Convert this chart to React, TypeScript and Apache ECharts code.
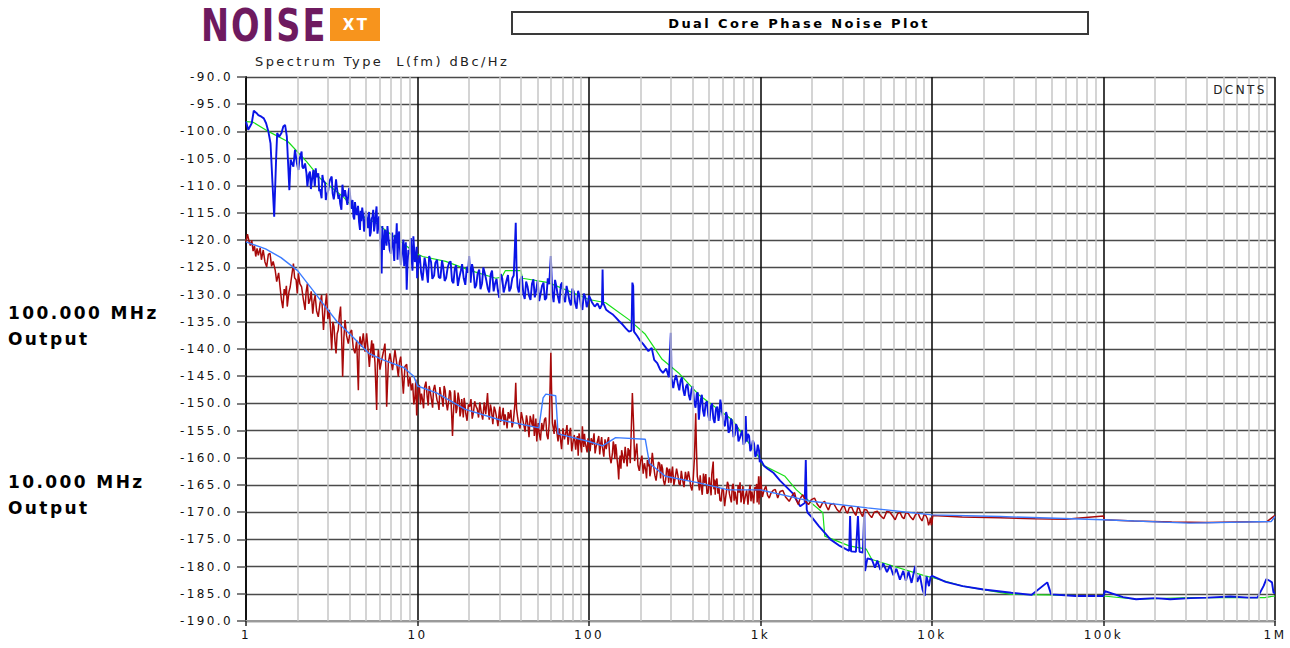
import React, { useEffect, useRef } from "react";
import * as echarts from "echarts";

// ---------- axis configuration ----------
const yMin = -190;
const yMax = -90;
const yStep = 5;
const xMin = 1;
const xMax = 1000000;
const xTickLabels: Record<string, string> = {
  "1": "1",
  "10": "10",
  "100": "100",
  "1000": "1k",
  "10000": "10k",
  "100000": "100k",
  "1000000": "1M",
};
const minorMultipliers = [2, 3, 4, 5, 6, 7, 8, 9];
const decadeStarts = [1, 10, 100, 1000, 10000, 100000];

// ---------- series data: [offset frequency Hz, dBc/Hz] ----------
const blue100: [number, number][] = [
  [1, -98.2], [1.03, -99.7], [1.08, -98.5], [1.11, -96.2], [1.15, -96.6], [1.18, -97.0],
  [1.23, -97.3], [1.27, -97.6], [1.31, -98.5], [1.35, -100.0], [1.39, -102.2], [1.43, -110.1],
  [1.46, -115.7], [1.5, -104.6], [1.52, -100.3], [1.56, -101.0], [1.61, -100.3], [1.65, -99.1],
  [1.69, -98.8], [1.73, -100.9], [1.79, -110.8], [1.82, -105.2], [1.89, -106.5], [1.93, -103.4],
  [1.98, -105.8], [2.02, -107.1], [2.06, -104.9], [2.11, -103.7], [2.16, -106.8], [2.21, -105.9],
  [2.28, -110.1], [2.32, -108.0], [2.36, -107.4], [2.42, -109.2], [2.47, -107.1], [2.52, -110.1],
  [2.58, -108.4], [2.64, -107.7], [2.7, -110.6], [2.76, -112.3], [2.82, -109.0], [2.89, -109.5],
  [2.95, -111.9], [3.02, -110.8], [3.09, -108.9], [3.16, -108.3], [3.25, -112.5], [3.31, -110.6],
  [3.38, -110.1], [3.46, -112.4], [3.54, -113.2], [3.65, -109.8], [3.72, -112.0], [3.78, -110.8],
  [3.9, -113.5], [3.97, -111.0], [4.04, -111.4], [4.13, -114.2], [4.23, -115.7], [4.32, -113.0],
  [4.42, -115.4], [4.5, -113.7], [4.62, -118.1], [4.7, -116.5], [4.76, -114.0], [4.83, -115.7],
  [4.94, -117.6], [5.05, -115.7], [5.15, -117.8], [5.28, -119.3], [5.4, -116.0], [5.52, -114.4],
  [5.64, -117.2], [5.77, -113.8], [5.9, -116.9], [6.05, -119.5], [6.18, -126.1], [6.3, -120.5],
  [6.46, -118.1], [6.6, -121.0], [6.76, -119.3], [7.0, -122.5], [7.24, -121.8], [7.4, -119.0],
  [7.57, -116.9], [7.74, -119.3], [7.9, -121.5], [8.09, -123.0], [8.28, -119.9], [8.45, -122.0],
  [8.65, -129.1], [8.85, -121.8], [9.05, -120.6], [9.25, -123.5], [9.46, -119.3], [9.65, -124.0],
  [9.89, -121.2], [10.1, -124.2], [10.5, -126.0], [11.0, -123.2], [11.5, -127.8], [12.0, -124.0],
  [12.5, -126.5], [13.0, -123.6], [13.6, -127.0], [14.1, -124.8], [14.7, -126.9], [15.3, -124.1],
  [15.9, -127.5], [16.5, -125.2], [17.2, -128.4], [17.9, -125.6], [18.6, -127.0], [19.4, -124.9],
  [20.0, -122.9], [20.4, -127.8], [21.2, -125.7], [22.0, -128.3], [22.9, -125.4], [23.8, -127.9],
  [24.7, -126.1], [25.7, -128.9], [26.7, -126.3], [27.8, -129.4], [28.9, -127.1], [30.0, -130.6],
  [31.2, -127.0], [32.4, -128.6], [33.7, -126.4], [35.0, -128.8], [36.4, -126.5], [37.0, -121.0],
  [37.4, -116.8], [37.8, -125.0], [38.3, -128.6], [39.8, -127.2], [41.4, -129.8], [43.0, -127.6],
  [44.7, -130.2], [46.5, -128.0], [48.3, -130.5], [50.2, -127.4], [52.2, -129.9], [54.3, -127.8],
  [56.4, -130.6], [58.6, -128.1], [59.9, -122.9], [61.0, -129.4], [63.4, -127.3], [65.9, -130.4],
  [68.5, -128.2], [71.2, -130.8], [74.0, -128.4], [76.9, -131.2], [80.0, -128.9], [83.1, -131.6],
  [86.4, -129.3], [89.8, -132.1], [93.3, -129.8], [97.0, -132.3], [100, -130.2], [104, -131.4],
  [108, -132.2], [112, -131.6], [116, -132.6], [119, -131.8], [120, -125.4], [121, -131.5],
  [126, -132.8], [131, -133.2], [137, -133.6], [143, -134.2], [150, -134.9], [157, -135.5],
  [164, -136.2], [171, -136.8], [177, -136.6], [179, -127.8], [181, -128.4], [183, -136.8],
  [191, -137.6], [198, -138.4], [206, -139.0], [214, -139.7], [222, -140.4], [232, -139.8],
  [240, -142.0], [250, -142.6], [260, -143.8], [270, -144.4], [282, -143.6], [292, -145.2],
  [300, -137.0], [303, -145.4], [315, -145.8], [330, -146.5], [342, -145.8], [355, -147.6],
  [368, -146.9], [382, -148.5], [396, -147.4], [410, -149.6], [425, -148.2], [437, -153.0],
  [448, -149.4], [462, -151.3], [479, -150.0], [496, -152.2], [513, -150.6], [531, -152.8],
  [550, -151.0], [569, -153.2], [583, -149.3], [600, -152.0], [620, -154.2], [640, -152.4],
  [662, -155.0], [685, -153.6], [708, -155.8], [732, -154.4], [757, -156.4], [783, -155.0],
  [810, -157.2], [820, -152.3], [830, -157.0], [858, -156.0], [887, -158.2], [917, -157.4],
  [948, -159.4], [980, -158.6], [1000, -160.3], [1050, -161.5], [1100, -162.0], [1194, -162.8],
  [1300, -164.2], [1400, -165.2], [1538, -166.5], [1703, -168.9], [1810, -168.3], [1837, -160.4],
  [1860, -169.5], [1885, -170.1], [2000, -171.0], [2195, -172.6], [2400, -174.0], [2555, -175.0],
  [2900, -176.2], [3290, -177.1], [3330, -170.7], [3375, -177.2], [3600, -177.3], [3700, -170.7],
  [3780, -177.3], [3950, -177.4], [4030, -169.8], [4070, -180.8], [4200, -178.5], [4460, -178.7],
  [4650, -180.2], [4800, -178.9], [5000, -180.6], [5200, -179.4], [5460, -181.0], [5700, -179.8],
  [5950, -181.6], [6200, -180.4], [6500, -182.4], [6800, -180.8], [7040, -182.6], [7300, -180.9],
  [7600, -183.0], [7980, -179.9], [8200, -182.8], [8500, -181.6], [8800, -184.2], [9070, -185.4],
  [9300, -181.8], [9600, -183.6], [9800, -182.0], [10000, -181.7], [12000, -182.8], [15100, -183.6],
  [20000, -184.2], [29000, -184.8], [38000, -185.2], [47000, -182.9], [49500, -185.1], [68800, -185.4],
  [100000, -185.4], [102000, -184.5], [130000, -185.6], [155000, -186.0], [200000, -185.8], [245000, -186.0],
  [320000, -185.8], [407000, -185.7], [550000, -185.5], [700000, -185.7], [790000, -185.7], [860000, -183.5],
  [890000, -182.3], [930000, -182.6], [960000, -182.9], [980000, -184.8], [1000000, -184.8],
];

// extra readings that fill the dense noise band of the 100 MHz trace
const blue100Band: [number, number][] = [
  [2.04, -105.6], [2.13, -106.5], [2.25, -107.6], [2.39, -110.6], [2.55, -106.8], [2.67, -111.0],
  [2.79, -108.0], [2.92, -112.6], [3.05, -109.6], [3.2, -111.4], [3.35, -108.8], [3.5, -111.6],
  [3.6, -114.4], [3.84, -112.2], [4.0, -110.4], [4.08, -113.8], [4.18, -112.6], [4.28, -116.2],
  [4.37, -114.4], [4.56, -116.6], [4.66, -114.6], [4.88, -118.4], [5.0, -114.6], [5.1, -116.4],
  [5.22, -114.8], [5.34, -118.6], [5.46, -115.8], [5.58, -118.4], [5.7, -115.4], [5.84, -118.8],
  [5.97, -115.6], [6.11, -121.6], [6.24, -117.4], [6.38, -121.8], [6.53, -119.2], [6.68, -117.4],
  [6.88, -121.8], [7.12, -118.6], [7.32, -123.8], [7.48, -120.6], [7.65, -123.6], [7.82, -118.4],
  [8.0, -124.6], [8.18, -121.2], [8.36, -124.8], [8.55, -120.4], [8.75, -124.2], [8.95, -122.6],
  [9.15, -119.6], [9.35, -125.6], [9.55, -121.4], [9.77, -123.2], [9.95, -127.0],
  [10.3, -122.8], [10.7, -127.4], [11.2, -124.6], [11.7, -122.9], [12.2, -127.1], [12.7, -124.2],
  [13.3, -126.8], [13.9, -123.7], [14.4, -127.5], [15.0, -125.0], [15.6, -123.9], [16.2, -127.9],
  [16.8, -124.6], [17.5, -127.0], [18.2, -124.4], [19.0, -128.2], [19.7, -126.0], [20.8, -124.4],
  [21.6, -128.8], [22.4, -126.2], [23.3, -129.0], [24.2, -125.0], [25.2, -127.4], [26.2, -129.6],
  [27.2, -125.6], [28.3, -128.0], [29.4, -129.2], [30.6, -126.2], [31.8, -129.6], [33.0, -127.5],
  [34.3, -129.4], [35.7, -127.0], [39.0, -129.6], [40.6, -126.6], [42.2, -130.8], [43.8, -128.5],
  [45.6, -131.0], [47.4, -127.2], [49.2, -129.2], [51.2, -131.2], [53.2, -128.4], [55.3, -131.0],
  [57.5, -127.0], [62.2, -131.4], [64.6, -128.6], [67.2, -131.6], [69.8, -127.8], [72.6, -131.4],
  [75.4, -129.6], [78.4, -132.0], [81.5, -129.4], [84.7, -132.6], [88.0, -130.2], [91.5, -132.8],
  [95.1, -130.4], [98.5, -131.6],
  [310, -147.2], [322, -144.8], [336, -147.6], [348, -145.2], [361, -148.6], [375, -146.4],
  [389, -149.4], [403, -146.8], [418, -150.8], [431, -148.0], [442, -151.2], [455, -148.4],
  [470, -152.4], [487, -149.6], [504, -153.2], [522, -150.0], [540, -153.6], [560, -150.6],
  [576, -152.0], [590, -150.4], [610, -153.8], [630, -151.6], [651, -155.4], [673, -152.8],
  [696, -156.2], [720, -153.8], [744, -157.0], [770, -155.6], [796, -157.6], [844, -155.6],
  [872, -158.8], [902, -156.8], [932, -159.8], [964, -157.6], [990, -160.8],
];

const green100: [number, number][] = [
  [1, -98.2], [1.1, -98.3], [1.35, -100.0], [1.76, -101.9], [2.25, -105.5], [2.7, -108.6],
  [3.68, -112.0], [4.6, -115.3], [5.75, -116.9], [9.8, -122.4], [10.7, -123.0], [14.6, -123.9],
  [20, -125.5], [28.6, -127.0], [31, -126.8], [32.5, -125.6], [40, -125.6], [41, -127.0],
  [58, -127.8], [100, -130.9], [125, -131.5], [137, -132.4], [171, -134.6], [213, -137.3],
  [267, -141.9], [333, -144.4], [436, -148.4], [683, -153.0], [1000, -160.3], [1026, -161.3],
  [1390, -163.4], [1620, -165.9], [1980, -168.3], [2310, -170.1], [2370, -174.4], [3290, -176.2],
  [4140, -176.8], [4460, -178.7], [9100, -181.7], [10000, -182.0], [15100, -183.6], [29000, -185.1],
  [100000, -185.4], [155000, -186.0], [316000, -185.7], [870000, -185.7], [1000000, -185.4],
];

const red10: [number, number][] = [
  [1, -120.3], [1.02, -118.9], [1.04, -120.1], [1.06, -121.0], [1.08, -120.0], [1.1, -122.0],
  [1.12, -121.0], [1.14, -123.0], [1.16, -121.5], [1.18, -122.8], [1.21, -121.4], [1.23, -123.6],
  [1.26, -121.8], [1.29, -124.0], [1.32, -124.9], [1.35, -122.6], [1.38, -122.4], [1.41, -124.8],
  [1.44, -123.9], [1.48, -125.5], [1.51, -127.6], [1.55, -126.0], [1.58, -128.6], [1.61, -131.0],
  [1.64, -132.5], [1.67, -129.0], [1.69, -130.1], [1.72, -128.4], [1.74, -132.2], [1.78, -129.5],
  [1.81, -128.6], [1.85, -126.4], [1.89, -124.3], [1.92, -126.9], [1.96, -127.3], [1.99, -129.8],
  [2.02, -126.1], [2.06, -128.0], [2.11, -128.6], [2.16, -130.9], [2.21, -132.8], [2.24, -129.6],
  [2.28, -128.0], [2.32, -131.7], [2.36, -131.0], [2.4, -129.4], [2.45, -133.5], [2.49, -131.2],
  [2.53, -130.1], [2.58, -133.0], [2.64, -134.1], [2.7, -131.6], [2.76, -130.1], [2.8, -133.8],
  [2.83, -136.5], [2.89, -132.4], [2.95, -129.8], [3.0, -134.5], [3.06, -132.8], [3.11, -136.2],
  [3.16, -140.2], [3.21, -135.0], [3.26, -135.9], [3.3, -138.5], [3.35, -140.8], [3.4, -137.2],
  [3.45, -136.5], [3.5, -134.0], [3.56, -132.2], [3.61, -137.8], [3.66, -145.1], [3.72, -138.0],
  [3.78, -134.7], [3.86, -137.6], [3.95, -139.0], [4.04, -137.0], [4.13, -136.5], [4.22, -139.8],
  [4.32, -140.8], [4.42, -138.4], [4.52, -147.6], [4.57, -140.0], [4.62, -137.7], [4.72, -139.6],
  [4.83, -137.1], [4.94, -140.5], [5.05, -137.1], [5.14, -139.8], [5.24, -143.3], [5.32, -140.6],
  [5.41, -138.4], [5.47, -141.6], [5.53, -139.0], [5.65, -142.5], [5.78, -151.2], [5.84, -143.0],
  [5.91, -140.2], [6.04, -143.8], [6.18, -142.0], [6.32, -140.6], [6.46, -139.0], [6.54, -143.6],
  [6.61, -150.6], [6.76, -142.5], [6.91, -140.8], [7.15, -143.9], [7.39, -140.2], [7.56, -142.6],
  [7.73, -145.1], [7.85, -142.4], [7.98, -141.4], [8.12, -144.6], [8.27, -148.2], [8.45, -143.2],
  [8.65, -142.8], [8.85, -146.9], [9.04, -145.1], [9.2, -147.6], [9.37, -146.3], [9.52, -150.2],
  [9.67, -148.8], [9.78, -145.6], [9.89, -152.2], [10.0, -149.0], [10.1, -147.6], [10.4, -150.2],
  [10.7, -149.3], [11.0, -147.0], [11.4, -148.9], [11.7, -146.8], [12.1, -149.6], [12.4, -147.5],
  [12.8, -148.1], [13.2, -150.0], [13.5, -147.0], [13.9, -149.2], [14.3, -146.8], [14.7, -149.8],
  [15.2, -149.5], [15.6, -148.0], [16.0, -156.0], [16.3, -150.3], [16.6, -148.8], [17.0, -150.9],
  [17.5, -149.3], [17.9, -151.5], [18.3, -150.8], [18.7, -149.0], [19.1, -151.8], [19.8, -150.2],
  [20.5, -149.2], [21.2, -151.6], [21.9, -150.5], [22.7, -152.6], [23.5, -151.5], [24.5, -149.8],
  [25.6, -148.1], [25.9, -151.0], [26.2, -153.0], [27.0, -151.3], [28.0, -150.6], [29.0, -152.8],
  [29.9, -151.8], [30.5, -153.4], [31.2, -152.0], [32.0, -154.0], [32.8, -153.0], [33.8, -151.6],
  [35.0, -151.2], [36.2, -153.4], [37.0, -150.0], [37.4, -146.2], [37.8, -151.0], [38.3, -152.4],
  [39.6, -154.6], [41.0, -152.8], [42.4, -155.2], [44.0, -153.8], [45.4, -152.3], [46.8, -154.2],
  [48.0, -156.0], [49.0, -152.8], [50.1, -155.0], [51.2, -155.4], [53.0, -153.6], [55.0, -153.0],
  [56.8, -155.8], [58.6, -153.6], [59.3, -147.0], [59.9, -140.7], [60.5, -147.5], [61.2, -153.6],
  [62.6, -155.6], [64.1, -154.2], [66.0, -157.0], [68.0, -156.2], [70.5, -154.6], [73.3, -155.4],
  [75.5, -157.6], [78.0, -154.5], [80.6, -157.2], [83.6, -158.5], [85.5, -156.0], [87.5, -155.5],
  [89.5, -157.8], [91.5, -154.2], [93.2, -158.0], [95.0, -157.2], [97.5, -159.0], [100, -157.9],
  [103, -156.4], [107, -155.5], [110, -158.0], [114, -156.0], [117, -157.4], [120, -158.2],
  [124, -156.6], [128, -157.0], [132, -159.6], [137, -159.1], [140, -157.8], [143, -157.5],
  [146, -160.5], [149, -164.0], [152, -159.6], [155, -158.6], [160, -161.0], [165, -160.0],
  [169, -158.2], [172, -158.5], [176, -156.0], [179, -148.1], [182, -154.0], [187, -159.1],
  [193, -161.4], [200, -160.5], [207, -162.9], [214, -162.2], [219, -160.4], [224, -160.0],
  [229, -162.6], [234, -159.1], [242, -163.2], [250, -162.5], [258, -161.0], [265, -161.2],
  [272, -164.2], [280, -164.0], [288, -162.2], [295, -162.0], [301, -164.6], [307, -161.6],
  [318, -163.8], [330, -163.3], [340, -165.0], [351, -164.0], [365, -162.6], [380, -162.5],
  [392, -165.3], [405, -164.0], [412, -160.0], [419, -151.8], [423, -158.0], [428, -163.4],
  [440, -166.0], [450, -165.0], [465, -162.9], [480, -163.0], [495, -166.4], [510, -165.5],
  [520, -163.0], [530, -160.7], [540, -164.0], [549, -164.6], [565, -166.6], [580, -167.8],
  [598, -165.6], [618, -168.9], [633, -166.2], [650, -165.0], [667, -167.4], [685, -165.2],
  [702, -167.9], [720, -167.5], [740, -165.0], [760, -164.5], [780, -166.8], [800, -168.5],
  [830, -166.0], [860, -165.9], [880, -168.0], [900, -167.0], [925, -165.4], [950, -164.8],
  [962, -166.6], [975, -163.4], [985, -166.0], [990, -167.5], [995, -165.0], [1000, -163.4],
  [1050, -165.9], [1100, -166.9], [1150, -166.5], [1220, -165.8], [1300, -166.2], [1400, -167.2],
  [1538, -166.8], [1620, -167.8], [1700, -167.5], [1830, -168.0], [1980, -167.7], [2150, -168.6],
  [2300, -168.3], [2430, -169.0], [2555, -168.6], [2780, -169.4], [3000, -169.0], [3150, -169.8],
  [3290, -169.2], [3500, -170.0], [3700, -169.0], [3850, -170.2], [4030, -169.5], [4300, -170.4],
  [4600, -170.0], [5000, -170.6], [5460, -169.8], [5900, -170.7], [6300, -170.3], [6700, -170.9],
  [7040, -170.1], [7500, -170.9], [8000, -170.5], [8500, -171.0], [9000, -170.4], [9400, -171.2],
  [9700, -171.8], [9900, -172.4], [10000, -172.0], [10100, -170.6], [15000, -170.9], [25000, -171.0],
  [40000, -171.2], [60000, -171.3], [100000, -170.7], [101000, -171.4], [150000, -171.6], [250000, -171.8],
  [400000, -171.9], [600000, -171.8], [900000, -171.7], [1000000, -170.6],
];

// extra readings that fill the dense noise band of the 10 MHz trace
const red10Band: [number, number][] = [
  [10.25, -146.6], [10.55, -148.2], [10.85, -150.9], [11.2, -146.0], [11.55, -150.4], [11.9, -148.0],
  [12.25, -150.8], [12.6, -146.6], [13.0, -149.4], [13.35, -151.2], [13.7, -148.4], [14.1, -150.6],
  [14.5, -147.6], [14.95, -151.3], [15.4, -147.6], [15.8, -151.6], [16.15, -152.5], [16.45, -147.6],
  [16.8, -151.8], [17.25, -148.0], [17.7, -152.4], [18.1, -149.2], [18.5, -152.6], [18.9, -150.0],
  [19.45, -153.2], [20.15, -150.6], [20.85, -152.8], [21.55, -149.6], [22.3, -151.0], [23.1, -149.8],
  [24.0, -153.0], [25.0, -152.0], [26.6, -150.2], [27.5, -153.8], [28.5, -151.5], [29.45, -154.2],
  [30.2, -150.6], [30.85, -152.9], [31.6, -150.8], [32.4, -152.0], [33.3, -154.6], [34.4, -152.8],
  [35.6, -154.4], [38.9, -153.8], [40.3, -151.6], [41.7, -154.0], [43.2, -152.2], [44.7, -156.2],
  [46.1, -153.2], [47.4, -152.0], [48.5, -154.6], [49.6, -157.0], [50.6, -153.6], [52.1, -156.8],
  [54.0, -155.0], [55.9, -152.6], [57.7, -156.6], [63.3, -153.0], [65.0, -155.4], [67.0, -154.6],
  [69.2, -158.4], [71.9, -156.6], [74.4, -154.0], [76.7, -155.6], [79.3, -158.8], [82.1, -155.8],
  [84.5, -157.0], [86.5, -159.6], [88.5, -156.6], [90.5, -159.0], [92.3, -156.2], [94.1, -155.6],
  [96.2, -158.0], [98.7, -156.4],
  [101.5, -158.8], [105, -157.6], [108.5, -159.2], [112, -157.0], [115.5, -159.4], [118.5, -156.2],
  [122, -159.8], [126, -158.4], [130, -156.2], [134.5, -161.0], [138.5, -157.0], [141.5, -160.2],
  [144.5, -158.6], [147.5, -161.8], [150.5, -160.6], [153.5, -162.0], [157.5, -159.8], [162.5, -158.0],
  [167, -161.6], [170.5, -159.6], [174, -161.0], [184.5, -160.6], [190, -157.4], [196.5, -162.4],
  [203.5, -159.6], [210.5, -161.0], [216.5, -163.8], [221.5, -161.6], [226.5, -163.4], [231.5, -160.8],
  [238, -161.4], [246, -164.2], [254, -160.8], [261.5, -163.8], [268.5, -162.0], [276, -165.0],
  [284, -161.8], [291.5, -164.6], [298, -163.0], [304, -162.6], [312.5, -165.0], [324, -162.0],
  [335, -164.8], [345.5, -162.4], [358, -165.4], [372.5, -164.2], [386, -163.8], [398.5, -166.0],
  [434, -164.4], [445, -163.2], [457.5, -166.8], [472.5, -164.6], [487.5, -166.6], [502.5, -163.6],
  [515, -166.9], [535, -165.8], [544.5, -166.8], [557, -163.8], [572.5, -165.4], [589, -168.0],
  [608, -166.0], [625.5, -167.4], [641.5, -164.4], [658.5, -166.6], [676, -168.2], [693.5, -164.8],
  [711, -166.2], [730, -168.6], [750, -166.4], [770, -168.2], [790, -165.2], [815, -167.2],
  [845, -168.6], [870, -165.0], [890, -166.2], [912.5, -168.4], [937.5, -166.0], [956, -168.2],
  [968.5, -165.6], [980, -168.6],
  [1025, -167.2], [1075, -165.2], [1125, -167.4], [1185, -166.0], [1260, -167.4], [1350, -166.0],
  [1470, -168.0], [1580, -166.4], [1660, -168.6], [1765, -166.8], [1905, -168.6], [2065, -167.4],
  [2225, -169.2], [2365, -168.0], [2490, -169.6], [2670, -168.4], [2890, -170.0], [3075, -168.8],
  [3220, -170.2], [3395, -169.0], [3600, -170.6], [3775, -169.4], [3940, -170.8], [4165, -169.6],
  [4450, -171.0], [4800, -169.8], [5230, -171.2], [5680, -170.0], [6100, -171.4], [6500, -170.0],
  [6870, -171.2], [7270, -170.2], [7750, -171.4], [8250, -170.0], [8750, -171.6], [9200, -170.6],
  [9550, -172.4], [9800, -171.0],
];

const lightBlue10: [number, number][] = [
  [1, -120.3], [1.3, -121.6], [1.6, -123.2], [2.0, -125.6], [2.4, -128.8], [2.9, -132.2],
  [3.4, -135.0], [4.2, -137.8], [5.2, -140.8], [6.3, -142.0], [8.3, -143.4], [9.5, -145.0],
  [10, -146.8], [13, -148.1], [19, -151.1], [30, -153.0], [51, -154.5], [54, -149.0],
  [56, -148.3], [64, -148.6], [66, -155.6], [100, -157.0], [120, -157.8], [143, -156.3],
  [213, -156.6], [225, -161.0], [279, -163.4], [436, -164.6], [650, -165.9], [1000, -165.9],
  [1980, -168.0], [4200, -169.2], [10000, -170.5], [25000, -170.8], [100000, -171.4], [316000, -172.0],
  [950000, -171.7], [1000000, -170.8],
];

const titleText = "Dual Core Phase Noise Plot";
const subtitleText = "Spectrum Type  L(fm) dBc/Hz";
const cornerText = "DCNTS";
const sideLabels = [
  { line1: "100.000 MHz", line2: "Output", y: 313 },
  { line1: "10.000 MHz", line2: "Output", y: 482 },
];

const FONT = "'DejaVu Sans', Verdana, sans-serif";

const byFreq = (a: [number, number], b: [number, number]) => a[0] - b[0];

export default function App() {
  const ref = useRef<HTMLDivElement>(null);

  useEffect(() => {
    if (!ref.current) return;
    const chart = echarts.init(ref.current, null, { renderer: "svg" });

    const minorGridFreqs: number[] = [];
    decadeStarts.forEach((d) => minorMultipliers.forEach((m) => minorGridFreqs.push(m * d)));

    const blueData = [...blue100, ...blue100Band].sort(byFreq);
    const redData = [...red10, ...red10Band].sort(byFreq);

    const sideGraphics: any[] = [];
    sideLabels.forEach((s) => {
      sideGraphics.push({
        type: "text",
        x: 8,
        y: s.y,
        style: { text: s.line1, font: `bold 17px ${FONT}`, fill: "#000", textVerticalAlign: "middle" },
      });
      sideGraphics.push({
        type: "text",
        x: 8,
        y: s.y + 26,
        style: { text: s.line2, font: `bold 17px ${FONT}`, fill: "#000", textVerticalAlign: "middle" },
      });
    });

    chart.setOption({
      animation: false,
      backgroundColor: "#ffffff",
      grid: { left: 246, right: 15, top: 77, bottom: 27 },
      xAxis: {
        type: "log",
        logBase: 10,
        min: xMin,
        max: xMax,
        splitNumber: 6,
        axisLine: { show: true, onZero: false, lineStyle: { color: "#9a9a9a", width: 2 } },
        axisTick: { show: true, length: 5, lineStyle: { color: "#222", width: 1.5 } },
        axisLabel: {
          color: "#111",
          fontFamily: FONT,
          fontSize: 12,
          margin: 8,
          formatter: (v: number) => xTickLabels[String(Math.round(v))] ?? "",
        },
        splitLine: { show: true, lineStyle: { color: "#111", width: 1.6 } },
      },
      yAxis: {
        type: "value",
        min: yMin,
        max: yMax,
        interval: yStep,
        axisLine: { show: true, lineStyle: { color: "#111", width: 2 } },
        axisTick: { show: true, length: 9, lineStyle: { color: "#555", width: 1.5 } },
        axisLabel: {
          color: "#111",
          fontFamily: FONT,
          fontSize: 12,
          margin: 13,
          formatter: (v: number) => v.toFixed(1),
        },
        splitLine: { show: true, lineStyle: { color: "#4a4a4a", width: 1.4 } },
      },
      graphic: [
        {
          type: "text",
          x: 201,
          y: 25,
          scaleX: 0.84,
          scaleY: 1.12,
          style: {
            text: "NOISE",
            x: 0,
            y: 0,
            font: `bold 40px ${FONT}`,
            fill: "#6e1a5f",
            textAlign: "left",
            textVerticalAlign: "middle",
          },
        },
        {
          type: "rect",
          shape: { x: 330, y: 8, width: 50, height: 33 },
          style: { fill: "#f7941d" },
        },
        {
          type: "text",
          x: 356,
          y: 25,
          style: {
            text: "XT",
            font: `bold 15px ${FONT}`,
            fill: "#ffffff",
            textAlign: "center",
            textVerticalAlign: "middle",
          },
        },
        {
          type: "rect",
          shape: { x: 513, y: 13, width: 576, height: 22 },
          style: { fill: "#d8d8d8" },
        },
        {
          type: "rect",
          shape: { x: 512, y: 12, width: 576, height: 22 },
          style: { fill: "#ffffff", stroke: "#3a3a3a", lineWidth: 2 },
        },
        {
          type: "text",
          x: 799,
          y: 23,
          style: {
            text: titleText,
            font: `bold 13px ${FONT}`,
            fill: "#000",
            textAlign: "center",
            textVerticalAlign: "middle",
          },
        },
        {
          type: "text",
          x: 255,
          y: 61,
          style: {
            text: subtitleText,
            font: `13px ${FONT}`,
            fill: "#222",
            textAlign: "left",
            textVerticalAlign: "middle",
          },
        },
        {
          type: "text",
          x: 1240,
          y: 90,
          z: 100,
          style: {
            text: cornerText,
            font: `12px ${FONT}`,
            fill: "#222",
            textAlign: "center",
            textVerticalAlign: "middle",
          },
        },
        ...sideGraphics,
      ],
      series: [
        {
          name: "minor grid",
          type: "line",
          data: [],
          z: 1,
          silent: true,
          markLine: {
            silent: true,
            symbol: ["none", "none"],
            label: { show: false },
            lineStyle: { color: "#c6c6c6", width: 1.5, type: "solid" },
            data: minorGridFreqs.map((f) => ({ xAxis: f })),
          },
        },
        {
          name: "100 MHz smoothed",
          type: "line",
          data: green100,
          showSymbol: false,
          z: 3,
          lineStyle: { color: "#18e018", width: 1.2 },
        },
        {
          name: "100 MHz",
          type: "line",
          data: blueData,
          showSymbol: false,
          z: 4,
          lineStyle: { color: "#0a14e6", width: 1.9 },
        },
        {
          name: "10 MHz",
          type: "line",
          data: redData,
          showSymbol: false,
          z: 5,
          lineStyle: { color: "#a80a0a", width: 1.5 },
        },
        {
          name: "10 MHz smoothed",
          type: "line",
          data: lightBlue10,
          showSymbol: false,
          z: 6,
          lineStyle: { color: "#3c7cff", width: 1.4 },
        },
      ],
    });

    return () => chart.dispose();
  }, []);

  return (
    <div
      ref={ref}
      style={{
        position: "fixed",
        left: 0,
        top: 0,
        width: 1290,
        height: 648,
        background: "#fff",
        letterSpacing: "2.4px",
      }}
    />
  );
}
